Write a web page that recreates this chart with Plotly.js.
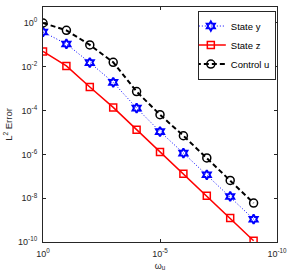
<!DOCTYPE html>
<html>
<head>
<meta charset="utf-8">
<script src="https://cdn.plot.ly/plotly-3.0.1.min.js"></script>
<style>html,body{margin:0;padding:0;background:#fff;}#chart{width:291px;height:275px;}</style>
</head>
<body>
<div id="chart"></div>
<script>
// Data
const omega = [1, 1e-1, 1e-2, 1e-3, 1e-4, 1e-5, 1e-6, 1e-7, 1e-8, 1e-9];
const stateY = [0.39, 0.11, 1.55e-2, 1.95e-3, 1.3e-4, 1.1e-5, 1.15e-6, 1.17e-7, 1.2e-8, 1.1e-9];
const stateZ = [5.0e-2, 1.1e-2, 1.2e-3, 1.4e-4, 1.35e-5, 1.3e-6, 1.3e-7, 1.3e-8, 1.25e-9, 1.15e-10];
const controlU = [1.0, 0.46, 0.10, 1.6e-2, 7.4e-4, 6.5e-5, 7.1e-6, 6.9e-7, 6.5e-8, 6.0e-9];
const seriesNames = ['State y', 'State z', 'Control u'];
const xTickVals = [1, 1e-5, 1e-10];
const xTickText = ['10<sup>0</sup>', '10<sup>-5</sup>', '10<sup>-10</sup>'];
const yTickVals = [1, 1e-2, 1e-4, 1e-6, 1e-8, 1e-10];
const yTickText = ['10<sup>0</sup>', '10<sup>-2</sup>', '10<sup>-4</sup>', '10<sup>-6</sup>', '10<sup>-8</sup>', '10<sup>-10</sup>'];

const family = '"Liberation Sans", Arial, sans-serif';
const tickFont = {family: family, size: 9, color: '#262626'};
const legendFont = {family: family, size: 9.5, color: '#000000'};

const traces = [
  {x: omega, y: stateY, name: seriesNames[0], mode: 'lines+markers',
   line: {color: '#0000ff', width: 1, dash: '1px,2px'},
   marker: {symbol: 'hexagram-open', size: 7, color: '#0000ff', line: {width: 2, color: '#0000ff'}}},
  {x: omega, y: stateZ, name: seriesNames[1], mode: 'lines+markers',
   line: {color: '#ff0000', width: 1.5},
   marker: {symbol: 'square-open', size: 7, color: '#ff0000', line: {width: 1.5, color: '#ff0000'}}},
  {x: omega, y: controlU, name: seriesNames[2], mode: 'lines+markers',
   line: {color: '#000000', width: 2, dash: '5px,3px'},
   marker: {symbol: 'circle-open', size: 8, color: '#000000', line: {width: 1.5, color: '#000000'}}}
];

const axisCommon = {
  type: 'log', showline: true, linecolor: '#262626', linewidth: 1, mirror: 'ticks',
  ticks: 'inside', ticklen: 3, tickcolor: '#262626', showgrid: false, zeroline: false,
  tickfont: tickFont
};

const layout = {
  width: 291, height: 275,
  margin: {l: 43, r: 14, t: 7, b: 33},
  paper_bgcolor: '#ffffff', plot_bgcolor: '#ffffff',
  font: tickFont,
  showlegend: true,
  legend: {x: 0.995, xanchor: 'right', y: 0.985, yanchor: 'top',
           bordercolor: '#262626', borderwidth: 1, bgcolor: '#ffffff',
           font: legendFont, itemwidth: 30, tracegroupgap: 0, indentation: -8},
  xaxis: Object.assign({}, axisCommon, {
    range: [0, -10], tickmode: 'array', tickvals: xTickVals, ticktext: xTickText,
    ticklabelstandoff: 3,
    title: {text: 'ω<sub>u</sub>', font: {family: family, size: 9, color: '#262626'}, standoff: 4}
  }),
  yaxis: Object.assign({}, axisCommon, {
    range: [-10, 0.73], tickmode: 'array', tickvals: yTickVals, ticktext: yTickText,
    ticklabelstandoff: 3,
    title: {text: 'L<sup>2</sup> Error', font: {family: family, size: 9.5, color: '#262626'}, standoff: 3}
  })
};

Plotly.newPlot('chart', traces, layout, {staticPlot: true, displayModeBar: false});
</script>
</body>
</html>
